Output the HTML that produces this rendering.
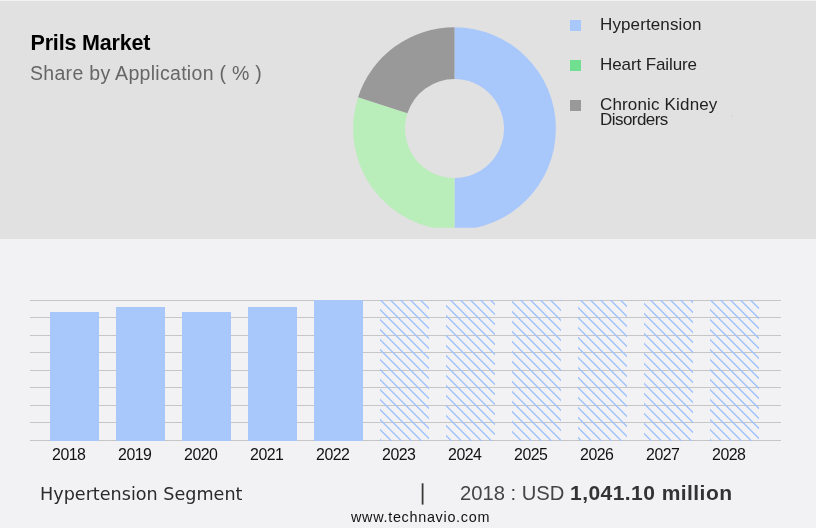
<!DOCTYPE html>
<html><head><meta charset="utf-8">
<style>
*{margin:0;padding:0}
html,body{width:816px;height:528px;overflow:hidden;background:#f2f2f4}
svg{display:block;will-change:transform}
text{font-family:"Liberation Sans",sans-serif}
</style></head>
<body>
<svg width="816" height="528" viewBox="0 0 816 528">
  <defs>
    <clipPath id="pc"><rect x="-200" y="-200" width="400" height="299.1"/></clipPath>
    <clipPath id="hc">
      <rect x="380" y="300" width="49" height="141"/>
      <rect x="446" y="300" width="49" height="141"/>
      <rect x="512" y="300" width="49" height="141"/>
      <rect x="578" y="300" width="49" height="141"/>
      <rect x="644" y="300" width="49" height="141"/>
      <rect x="710" y="300" width="49" height="141"/>
    </clipPath>
  </defs>
  <rect x="0" y="1" width="816" height="238" fill="#e1e1e1"/>
  <text x="30.5" y="50" font-size="21.5" font-weight="bold" letter-spacing="-0.18" fill="#000">Prils Market</text>
  <text x="30" y="80" font-size="19.5" letter-spacing="0.3" fill="#666">Share by Application ( % )</text>
  <g transform="translate(454.5,128.6)" clip-path="url(#pc)">
    <g>
    <path d="M0,-101.4 A101.4,101.4 0 0 1 0,101.4 L0,49.5 A49.5,49.5 0 0 0 0,-49.5 Z" fill="#a8c8fc"/>
    <path d="M0,101.4 A101.4,101.4 0 0 1 -96.44,-31.33 L-47.08,-15.30 A49.5,49.5 0 0 0 0,49.5 Z" fill="#b9edb9"/>
    <path d="M-96.44,-31.33 A101.4,101.4 0 0 1 0,-101.4 L0,-49.5 A49.5,49.5 0 0 0 -47.08,-15.30 Z" fill="#999"/>
    </g>
  </g>
  <rect x="731" y="115" width="1.5" height="1.5" fill="#cdd3dc"/>
  <rect x="570" y="20" width="11" height="11" fill="#a8c8fc"/>
  <rect x="570" y="60" width="11" height="11" fill="#70e090"/>
  <rect x="570" y="100" width="11" height="11" fill="#999"/>
  <g font-size="17" fill="#222">
    <text x="600" y="30" letter-spacing="0.12">Hypertension</text>
    <text x="600" y="70" letter-spacing="-0.1">Heart Failure</text>
    <text x="600" y="110" letter-spacing="0.16">Chronic Kidney</text>
    <text x="600" y="125" letter-spacing="-0.55">Disorders</text>
  </g>
  <g fill="#c6c6c6">
    <rect x="30" y="300" width="751" height="1"/>
    <rect x="30" y="317" width="751" height="1"/>
    <rect x="30" y="335" width="751" height="1"/>
    <rect x="30" y="352" width="751" height="1"/>
    <rect x="30" y="370" width="751" height="1"/>
    <rect x="30" y="387" width="751" height="1"/>
    <rect x="30" y="405" width="751" height="1"/>
    <rect x="30" y="422" width="751" height="1"/>
    <rect x="30" y="440" width="751" height="1"/>
  </g>
  <g fill="#a8c8fc">
    <rect x="50" y="312" width="49" height="129"/>
    <rect x="116" y="307" width="49" height="134"/>
    <rect x="182" y="312" width="49" height="129"/>
    <rect x="248" y="307" width="49" height="134"/>
    <rect x="314" y="300" width="49" height="141"/>
  </g>
  <path clip-path="url(#hc)" stroke="#9ec2fc" stroke-width="1.4" fill="none" d="M370 -100.5L770 299.5M370 -90.5L770 309.5M370 -80.5L770 319.5M370 -70.5L770 329.5M370 -60.5L770 339.5M370 -50.5L770 349.5M370 -40.5L770 359.5M370 -30.5L770 369.5M370 -20.5L770 379.5M370 -10.5L770 389.5M370 -0.5L770 399.5M370 9.5L770 409.5M370 19.5L770 419.5M370 29.5L770 429.5M370 39.5L770 439.5M370 49.5L770 449.5M370 59.5L770 459.5M370 69.5L770 469.5M370 79.5L770 479.5M370 89.5L770 489.5M370 99.5L770 499.5M370 109.5L770 509.5M370 119.5L770 519.5M370 129.5L770 529.5M370 139.5L770 539.5M370 149.5L770 549.5M370 159.5L770 559.5M370 169.5L770 569.5M370 179.5L770 579.5M370 189.5L770 589.5M370 199.5L770 599.5M370 209.5L770 609.5M370 219.5L770 619.5M370 229.5L770 629.5M370 239.5L770 639.5M370 249.5L770 649.5M370 259.5L770 659.5M370 269.5L770 669.5M370 279.5L770 679.5M370 289.5L770 689.5M370 299.5L770 699.5M370 309.5L770 709.5M370 319.5L770 719.5M370 329.5L770 729.5M370 339.5L770 739.5M370 349.5L770 749.5M370 359.5L770 759.5M370 369.5L770 769.5M370 379.5L770 779.5M370 389.5L770 789.5M370 399.5L770 799.5M370 409.5L770 809.5M370 419.5L770 819.5M370 429.5L770 829.5M370 439.5L770 839.5"/>
  <g font-size="15.9" letter-spacing="-0.5" fill="#111" text-anchor="middle">
    <text x="68.75" y="460">2018</text>
    <text x="134.75" y="460">2019</text>
    <text x="200.75" y="460">2020</text>
    <text x="266.75" y="460">2021</text>
    <text x="332.75" y="460">2022</text>
    <text x="398.75" y="460">2023</text>
    <text x="464.75" y="460">2024</text>
    <text x="530.75" y="460">2025</text>
    <text x="596.75" y="460">2026</text>
    <text x="662.75" y="460">2027</text>
    <text x="728.75" y="460">2028</text>
  </g>
  <text x="40" y="499.5" font-size="17.6" style="font-family:DejaVu Sans" fill="#2a2a2a">Hypertension Segment</text>
  <rect x="421.7" y="483.3" width="1.8" height="21.3" fill="#3a3a3a"/>
  <text x="460" y="500" font-size="20.2" fill="#444">2018 : USD</text>
  <text x="570" y="500" font-size="21" font-weight="bold" letter-spacing="0.45" fill="#333">1,041.10 million</text>
  <text x="351" y="522" font-size="14.4" letter-spacing="0.7" fill="#111">www.technavio.com</text>
</svg>
</body></html>
